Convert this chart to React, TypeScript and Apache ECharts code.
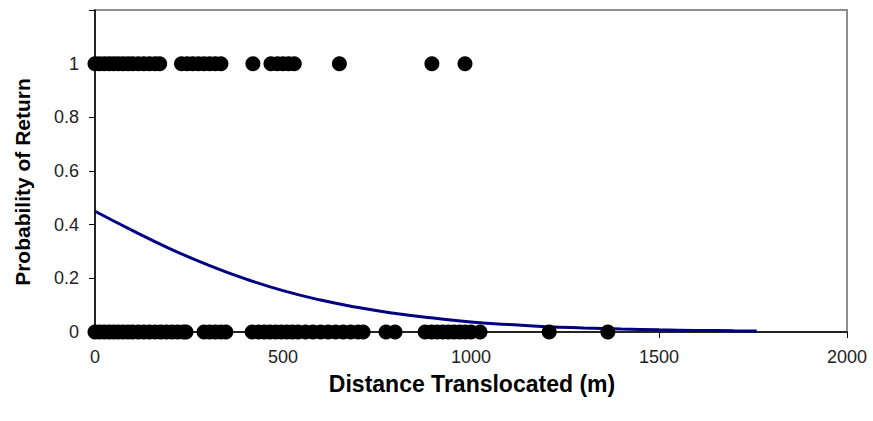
import React, { useEffect, useRef } from "react";
import * as echarts from "echarts";

const returnedX = [0, 12, 25, 38, 50, 62, 75, 88, 100, 115, 130, 145, 160, 172, 230, 245, 260, 275, 290, 305, 320, 335, 420, 468, 485, 500, 515, 530, 650, 896, 984];
const notReturnedX = [0, 12, 25, 38, 50, 62, 75, 88, 100, 115, 130, 145, 160, 175, 190, 205, 220, 235, 242, 290, 305, 320, 335, 348, 418, 435, 450, 465, 480, 495, 510, 525, 540, 560, 580, 600, 620, 640, 660, 680, 700, 713, 774, 798, 878, 895, 910, 925, 940, 955, 970, 985, 1000, 1024, 1208, 1364];
const curveX = [0, 100, 200, 300, 400, 500, 600, 700, 800, 900, 1000, 1100, 1200, 1300, 1400, 1500, 1600, 1700, 1760];
const curveY = [0.45, 0.378, 0.31, 0.25, 0.198, 0.154, 0.119, 0.091, 0.069, 0.052, 0.037, 0.028, 0.02, 0.015, 0.011, 0.008, 0.006, 0.005, 0.004];
const yTicks = [0, 0.2, 0.4, 0.6, 0.8, 1];
const xTitle = "Distance Translocated (m)";
const yTitle = "Probability of Return";

export default function App() {
  const ref = useRef<HTMLDivElement>(null);
  useEffect(() => {
    if (!ref.current) return;
    const chart = echarts.init(ref.current, null, { renderer: "svg" });
    const font = "Liberation Sans, Arial, sans-serif";
    chart.setOption({
      animation: false,
      backgroundColor: "#fff",
      grid: {
        left: 95,
        right: 26,
        top: 10,
        bottom: 89,
        show: true,
        borderColor: "#8f8f8f",
        borderWidth: 2,
        backgroundColor: "transparent",
      },
      xAxis: {
        type: "value",
        min: 0,
        max: 2000,
        interval: 500,
        axisLine: { show: true, onZero: false, lineStyle: { color: "#000", width: 1.5 } },
        axisTick: { show: true, inside: false, length: 6, lineStyle: { color: "#000" } },
        splitLine: { show: false },
        axisLabel: {
          margin: 16,
          fontSize: 18,
          fontFamily: font,
          color: "#222",
          formatter: (v: number) => String(Math.round(v)),
        },
      },
      yAxis: {
        type: "value",
        min: 0,
        max: 1.2,
        interval: 0.2,
        axisLine: { show: true, lineStyle: { color: "#000", width: 1.5 } },
        axisTick: { show: true, inside: false, length: 6, lineStyle: { color: "#000" } },
        splitLine: { show: false },
        axisLabel: {
          margin: 16,
          fontSize: 18,
          fontFamily: font,
          color: "#222",
          formatter: (v: number) => {
            const r = Math.round(v * 10) / 10;
            return yTicks.some((t) => Math.abs(t - r) < 1e-9) ? String(r) : "";
          },
        },
      },
      graphic: [
        {
          type: "text",
          x: 22,
          y: 182,
          rotation: Math.PI / 2,
          style: {
            text: yTitle,
            textAlign: "center",
            textVerticalAlign: "middle",
            font: `bold 21px ${font}`,
            fill: "#000",
          },
        },
        {
          type: "text",
          x: 472,
          y: 384,
          style: {
            text: xTitle,
            textAlign: "center",
            textVerticalAlign: "middle",
            font: `bold 23px ${font}`,
            fill: "#000",
          },
        },
      ],
      series: [
        {
          type: "line",
          data: curveX.map((x, i) => [x, curveY[i]]),
          smooth: true,
          showSymbol: false,
          symbol: "none",
          lineStyle: { color: "#000080", width: 3 },
          z: 3,
        },
        {
          type: "scatter",
          data: returnedX.map((x) => [x, 1]),
          symbol: "circle",
          symbolSize: 15,
          itemStyle: { color: "#000", opacity: 1 },
          clip: false,
          z: 4,
        },
        {
          type: "scatter",
          data: notReturnedX.map((x) => [x, 0]),
          symbol: "circle",
          symbolSize: 15,
          itemStyle: { color: "#000", opacity: 1 },
          clip: false,
          z: 4,
        },
      ],
    });
    return () => chart.dispose();
  }, []);
  return <div ref={ref} style={{ width: 873, height: 421, position: "absolute", left: 0, top: 0 }} />;
}
